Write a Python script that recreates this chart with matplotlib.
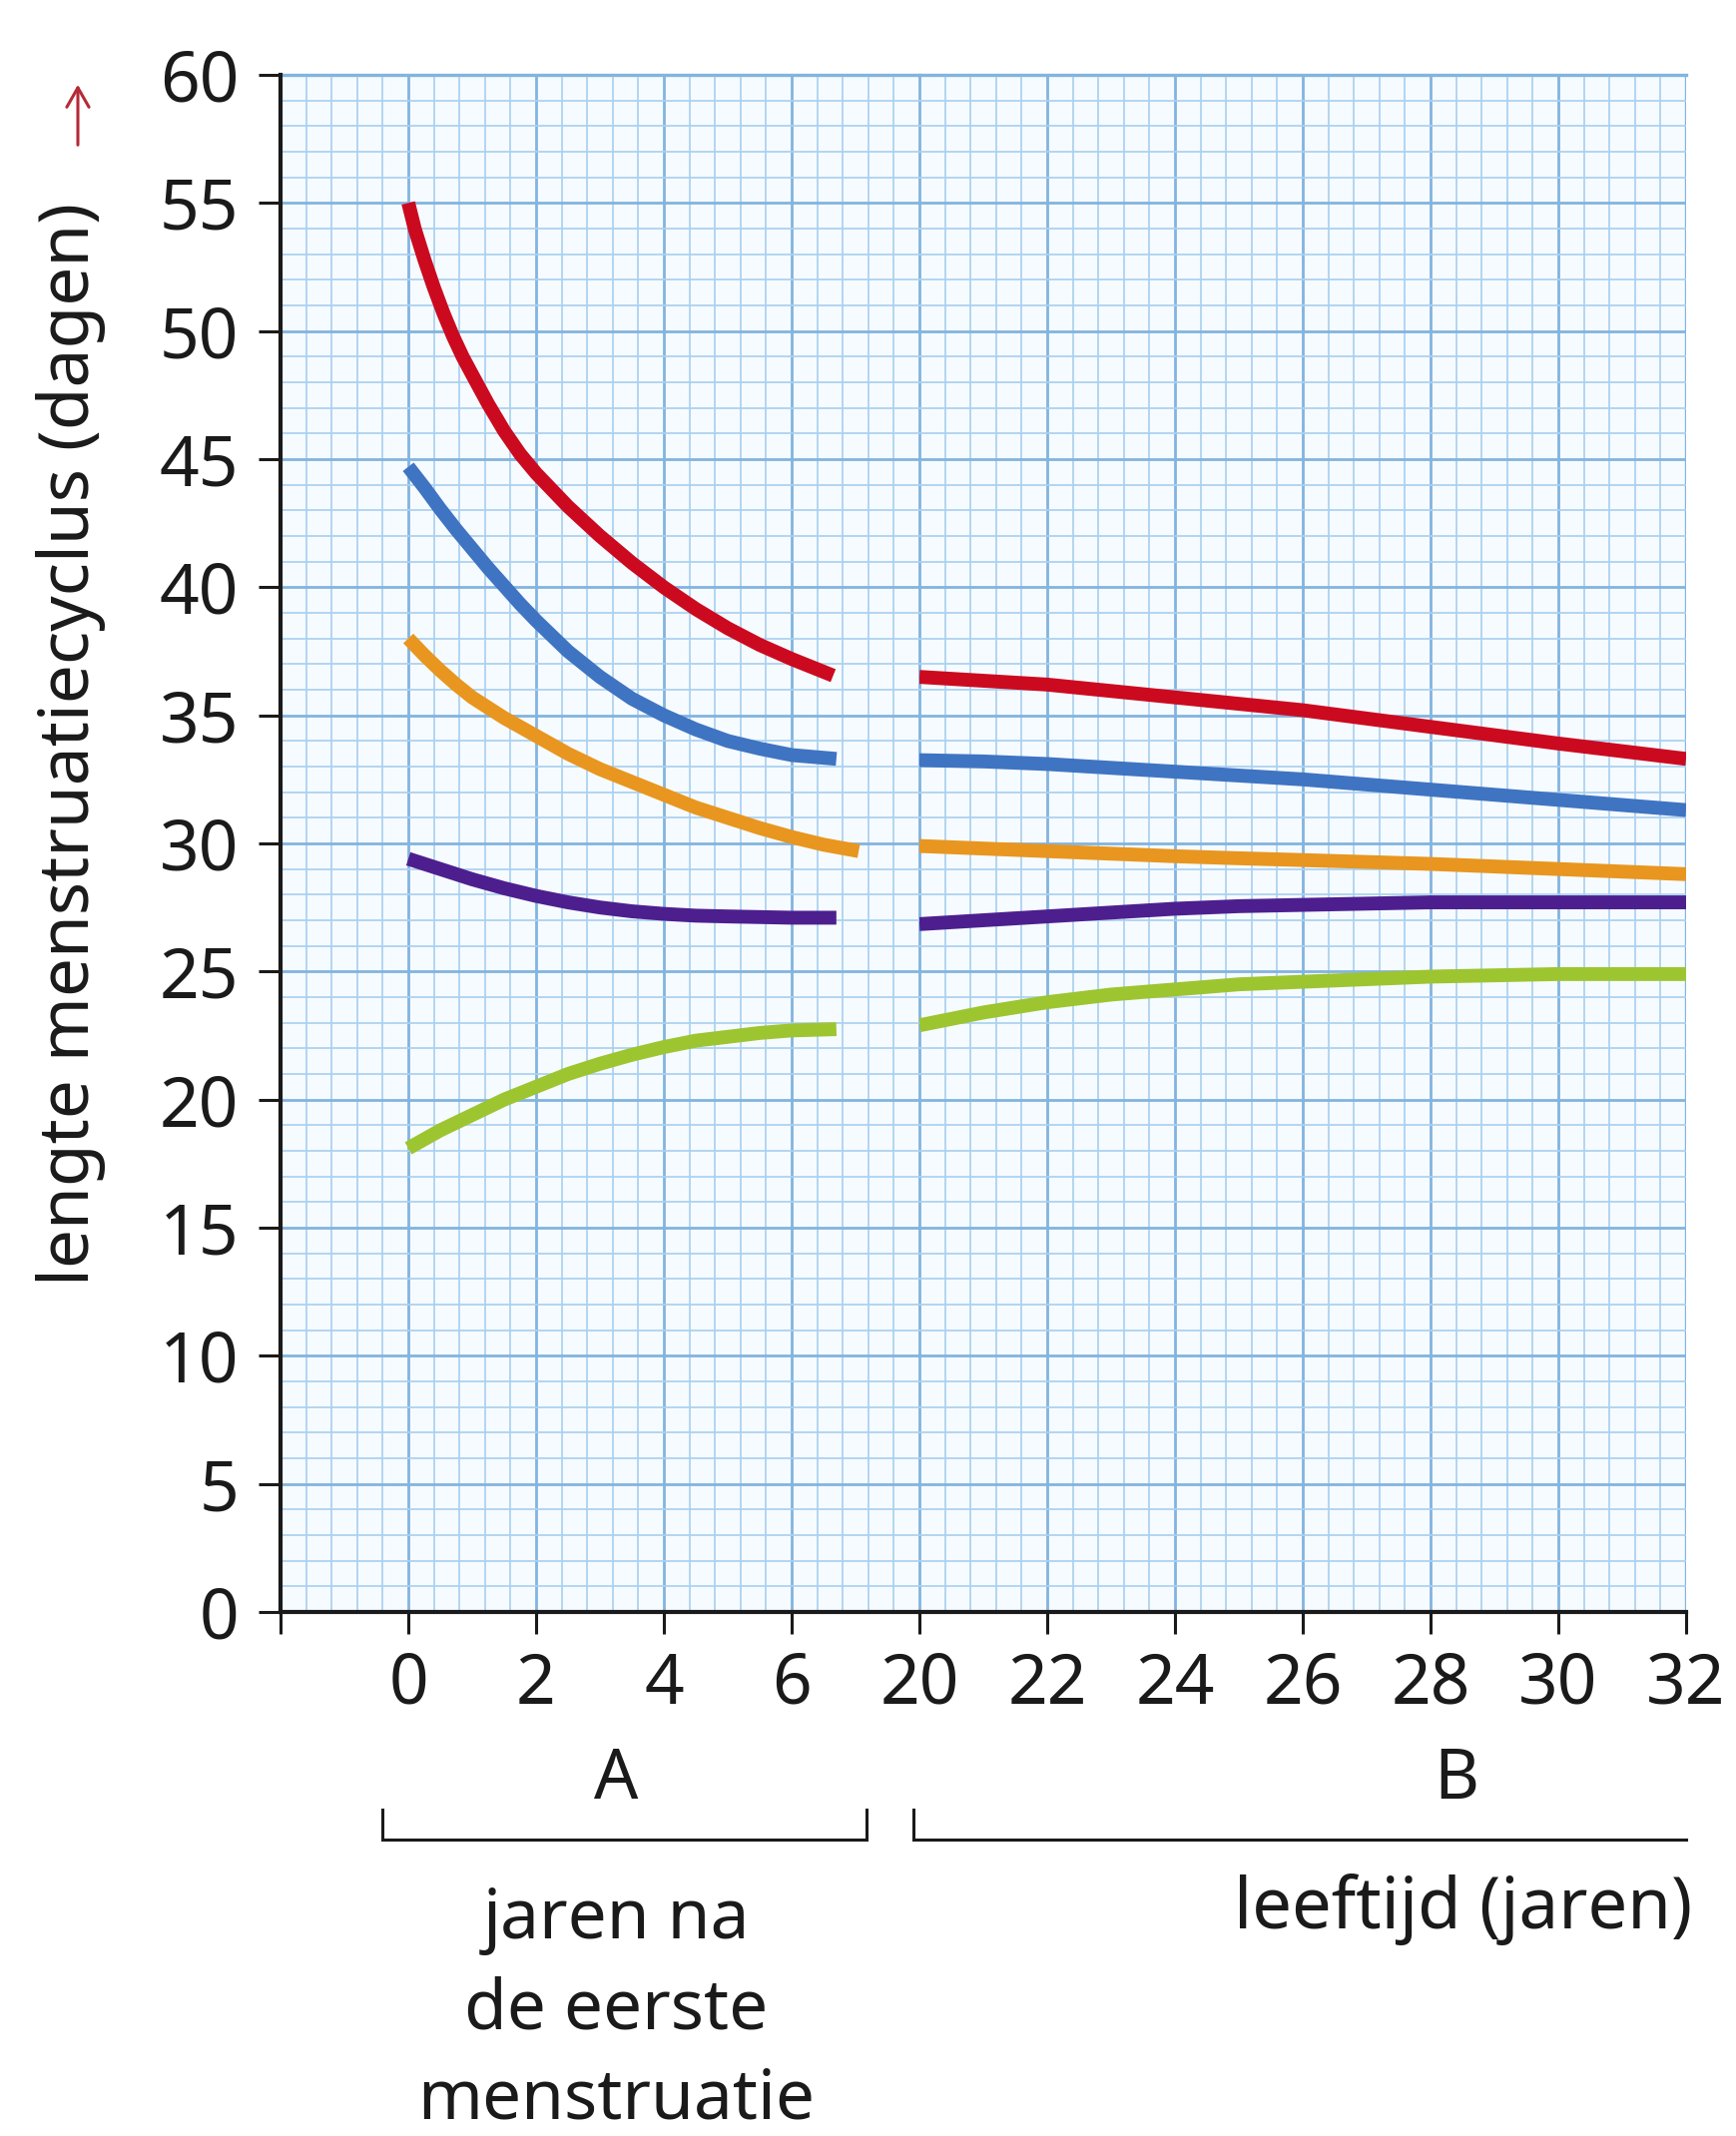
import matplotlib
matplotlib.use("Agg")
import matplotlib.pyplot as plt
from matplotlib.patches import FancyArrowPatch
from matplotlib.ticker import MultipleLocator, FixedLocator

plt.rcParams['font.family'] = ['Noto Sans', 'DejaVu Sans']

# ---- data -------------------------------------------------------------
# Panel A: years after the first menstruation
red_a_x = [0, 0.1, 0.25, 0.4, 0.55, 0.7, 0.85, 1.0, 1.25, 1.5, 1.75, 2.0,
           2.5, 3.0, 3.5, 4.0, 4.5, 5.0, 5.5, 6.0, 6.65]
red_a_y = [55.0, 54.0, 52.8, 51.7, 50.7, 49.8, 49.0, 48.3, 47.15, 46.1, 45.2,
           44.45, 43.15, 42.0, 40.95, 40.0, 39.15, 38.4, 37.75, 37.2, 36.55]

blue_a_x = [0, 0.25, 0.5, 0.75, 1.0, 1.25, 1.5, 1.75, 2.0, 2.5, 3.0, 3.5,
            4.0, 4.5, 5.0, 5.5, 6.0, 6.7]
blue_a_y = [44.7, 43.9, 43.05, 42.25, 41.5, 40.75, 40.05, 39.35, 38.7, 37.5,
            36.5, 35.65, 35.0, 34.45, 34.0, 33.7, 33.45, 33.3]

orange_a_x = [0, 0.25, 0.5, 0.75, 1.0, 1.5, 2.0, 2.5, 3.0, 3.5, 4.0, 4.5,
              5.0, 5.5, 6.0, 6.5, 7.05]
orange_a_y = [38.0, 37.35, 36.75, 36.2, 35.7, 34.9, 34.2, 33.5, 32.9, 32.4,
              31.9, 31.4, 31.0, 30.6, 30.25, 29.95, 29.7]

purple_a_x = [0, 0.5, 1.0, 1.5, 2.0, 2.5, 3.0, 3.5, 4.0, 4.5, 5.0, 6.0, 6.7]
purple_a_y = [29.4, 29.0, 28.6, 28.25, 27.95, 27.7, 27.5, 27.35, 27.25, 27.18,
              27.15, 27.1, 27.1]

green_a_x = [0, 0.5, 1.0, 1.5, 2.0, 2.5, 3.0, 3.5, 4.0, 4.5, 5.0, 5.5, 6.0, 6.7]
green_a_y = [18.1, 18.8, 19.4, 20.0, 20.5, 21.0, 21.4, 21.75, 22.05, 22.3,
             22.45, 22.6, 22.7, 22.75]

# Panel B: age in years
age_b = [20, 21, 22, 23, 24, 25, 26, 28, 30, 32]
red_b = [36.5, 36.35, 36.2, 35.95, 35.7, 35.45, 35.2, 34.55, 33.9, 33.3]
blue_b = [33.25, 33.2, 33.1, 32.95, 32.8, 32.65, 32.5, 32.1, 31.7, 31.3]
orange_b = [29.9, 29.8, 29.7, 29.6, 29.5, 29.42, 29.35, 29.2, 29.0, 28.8]
purple_b = [26.85, 27.0, 27.15, 27.3, 27.45, 27.55, 27.6, 27.7, 27.7, 27.7]
green_b = [22.9, 23.4, 23.8, 24.1, 24.3, 24.5, 24.6, 24.8, 24.9, 24.9]

y_ticks = list(range(0, 61, 5))
a_ticks = [-2, 0, 2, 4, 6, 8]
a_tick_labels = ['', '0', '2', '4', '6', '']
b_ticks = [20, 22, 24, 26, 28, 30, 32]

colors = {
    'red': '#cc0a1f',
    'blue': '#3f74c2',
    'orange': '#e8961f',
    'purple': '#4d1f8e',
    'green': '#9dc530',
}

# ---- figure -----------------------------------------------------------
W, H = 1739, 2140
fig = plt.figure(figsize=(W / 100, H / 100), dpi=100)

unit = 64.0           # pixels per year on the horizontal axis
left_px = 281.0
y0_px, y60_px = 1615.0, 75.0
bottom = 1 - y0_px / H
height = (y0_px - y60_px) / H

axA = fig.add_axes([left_px / W, bottom, 10 * unit / W, height])
axB = fig.add_axes([(left_px + 10 * unit) / W, bottom, 12 * unit / W, height])

paper = '#f6fbff'
major_c = '#82b4df'
minor_c = '#aad1f0'
ink = '#1a1a1a'
fs = 50

for ax, (x0, x1) in ((axA, (-2, 8)), (axB, (20, 32))):
    ax.set_xlim(x0, x1)
    ax.set_ylim(0, 60)
    ax.set_facecolor(paper)
    ax.xaxis.set_minor_locator(MultipleLocator(0.4))
    ax.yaxis.set_major_locator(MultipleLocator(5))
    ax.yaxis.set_minor_locator(MultipleLocator(1))
    ax.grid(which='minor', color=minor_c, lw=1.25, zorder=0)
    ax.grid(which='major', color=major_c, lw=2.0, zorder=0)
    ax.set_axisbelow(True)
    for s in ('top', 'right', 'left'):
        ax.spines[s].set_visible(False)
    ax.spines['bottom'].set_linewidth(3.0)
    ax.spines['bottom'].set_color(ink)
    ax.tick_params(which='minor', length=0)
    ax.tick_params(which='major', axis='x', direction='out', length=16,
                   width=2.2, color=ink, labelsize=fs, pad=12,
                   labelcolor=ink)

# outer border of the graph paper
axB.axvline(32, color=major_c, lw=2.4, zorder=0)
axA.axhline(60, color=major_c, lw=2.4, zorder=0, clip_on=False)
axB.axhline(60, color=major_c, lw=2.4, zorder=0, clip_on=False)

axA.spines['left'].set_visible(True)
axA.spines['left'].set_linewidth(3.0)
axA.spines['left'].set_color(ink)
axA.set_yticks(y_ticks)
axA.tick_params(which='major', axis='y', direction='out', length=16,
                width=2.2, color=ink, labelsize=fs, pad=14, labelcolor=ink)
axB.tick_params(axis='y', left=False, labelleft=False)

axA.xaxis.set_major_locator(FixedLocator(a_ticks))
axA.set_xticklabels(a_tick_labels)
axA.xaxis.get_major_ticks()[-1].tick1line.set_visible(False)
axB.xaxis.set_major_locator(FixedLocator(b_ticks))
axB.set_xticklabels([str(t) for t in b_ticks])

lw = 10.0
kw = dict(lw=lw, solid_capstyle='butt', solid_joinstyle='round', zorder=3)
axA.plot(red_a_x, red_a_y, color=colors['red'], **kw)
axA.plot(blue_a_x, blue_a_y, color=colors['blue'], **kw)
axA.plot(orange_a_x, orange_a_y, color=colors['orange'], **kw)
axA.plot(purple_a_x, purple_a_y, color=colors['purple'], **kw)
axA.plot(green_a_x, green_a_y, color=colors['green'], **kw)

axB.plot(age_b, red_b, color=colors['red'], **kw)
axB.plot(age_b, blue_b, color=colors['blue'], **kw)
axB.plot(age_b, orange_b, color=colors['orange'], **kw)
axB.plot(age_b, purple_b, color=colors['purple'], **kw)
axB.plot(age_b, green_b, color=colors['green'], **kw)

# ---- brackets and captions below the axis ------------------------------
br_top, br_bot = -7.7, -8.9
axA.plot([-0.4, -0.4, 7.17, 7.17], [br_top, br_bot, br_bot, br_top],
         color=ink, lw=2.2, clip_on=False, solid_joinstyle='miter')
axB.plot([19.9, 19.9, 32.0], [br_top, br_bot, br_bot],
         color=ink, lw=2.2, clip_on=False, solid_joinstyle='miter')

axA.text(3.25, -6.6, 'A', ha='center', va='center', fontsize=fs,
         color=ink, clip_on=False)
axB.text(28.4, -6.6, 'B', ha='center', va='center', fontsize=fs,
         color=ink, clip_on=False)
axA.text(3.25, -15.55, 'jaren na\nde eerste\nmenstruatie', ha='center',
         va='center', fontsize=fs, color=ink, linespacing=1.38,
         clip_on=False)
axB.text(32.1, -11.6, 'leeftijd (jaren)', ha='right', va='center',
         fontsize=51, color=ink, clip_on=False)

# ---- vertical axis title with its arrow ----------------------------------
fig.text(71 / W, 1 - 745 / H, 'lengte menstruatiecyclus (dagen)',
         rotation=90, ha='center', va='center', fontsize=50, color=ink)
fig.add_artist(FancyArrowPatch(
    (78 / W, 1 - 148 / H), (78 / W, 1 - 82 / H),
    transform=fig.transFigure, arrowstyle='->,head_length=14,head_width=8',
    color='#b52a35', lw=2.2, mutation_scale=1))

fig.savefig('out.png', dpi=100, facecolor='white')
